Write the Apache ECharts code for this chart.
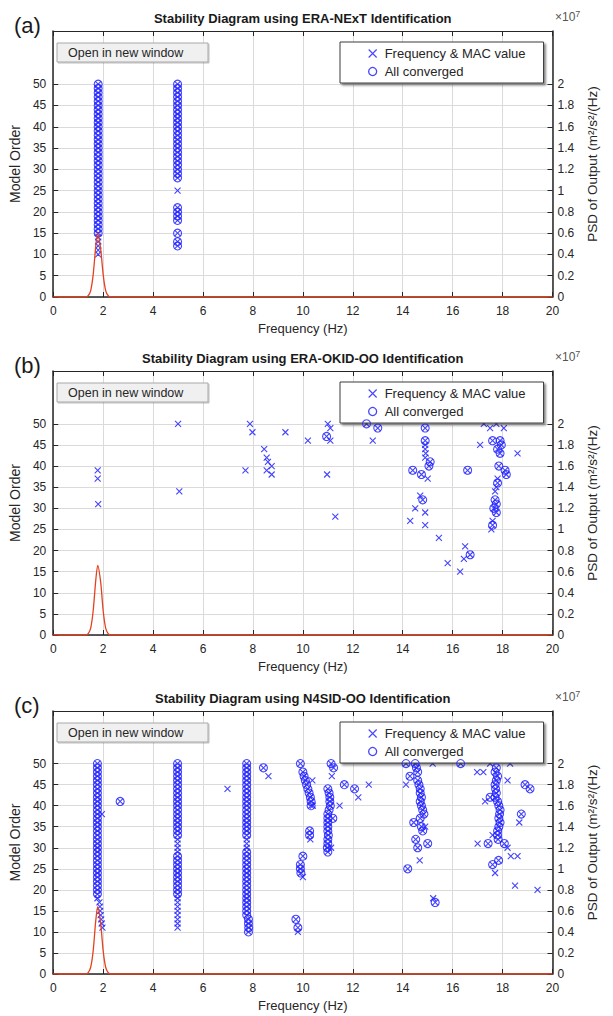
<!DOCTYPE html>
<html><head><meta charset="utf-8">
<script src="https://cdn.jsdelivr.net/npm/echarts@6/dist/echarts.min.js"></script>
<style>html,body{margin:0;padding:0;background:#fff}#c{width:613px;height:1016px}</style>
</head><body><div id="c"></div>
<script>
// ---------------- text ----------------
const panelLabels = ['(a)', '(b)', '(c)'];
const panelTitles = [
  'Stability Diagram using ERA-NExT Identification',
  'Stability Diagram using ERA-OKID-OO Identification',
  'Stability Diagram using N4SID-OO Identification'
];
const seriesNames = ['Frequency & MAC value', 'All converged', 'PSD'];
const xLabel = 'Frequency (Hz)';
const yLabel = 'Model Order';
const y2Label = 'PSD of Output (m²/s²/(Hz)';
const buttonText = 'Open in new window';
const orderTicks = [0, 5, 10, 15, 20, 25, 30, 35, 40, 45, 50];
const psdTicks = [0, 0.2, 0.4, 0.6, 0.8, 1, 1.2, 1.4, 1.6, 1.8, 2];

// ---------------- panel (a) ----------------
const aColFreqs = [1.8, 4.98];
const aCircleOrders = [
  [15,16,17,18,19,20,21,22,23,24,25,26,27,28,29,30,31,32,33,34,35,36,37,38,39,40,41,42,43,44,45,46,47,48,49,50],
  [12,13,15,18,19,20,21,28,29,30,31,32,33,34,35,36,37,38,39,40,41,42,43,44,45,46,47,48,49,50]
];
const aCrossOrders = [
  [10,11,12,13,14,15,16,17,18,19,20,21,22,23,24,25,26,27,28,29,30,31,32,33,34,35,36,37,38,39,40,41,42,43,44,45,46,47,48,49,50],
  [12,13,15,18,19,20,21,25,28,29,30,31,32,33,34,35,36,37,38,39,40,41,42,43,44,45,46,47,48,49,50]
];
const aPsdFreq = [0, 1.3, 1.4, 1.5, 1.6, 1.7, 1.78, 1.9, 2.0, 2.1, 2.2, 2.3, 20];
const aPsd = [0, 0, 0.012, 0.06, 0.21, 0.47, 0.6, 0.45, 0.21, 0.06, 0.012, 0, 0];

// ---------------- panel (b) ----------------
const bCircles = [[10.95,47],[12.55,50],[13.0,49],[14.4,39],[14.75,38],[14.8,32],[14.9,49],[14.9,46],[15.05,40],[15.1,41],[16.7,19],[16.6,39],[17.6,46],[17.9,46],[17.95,45],[17.8,44],[17.9,43],[17.85,40],[18.1,39],[18.15,38],[17.8,36],[17.7,32],[17.75,31],[17.65,30],[17.75,29],[17.6,26]];
const bCrossOnly = [[1.78,39],[1.78,37],[1.8,31],[5.0,50],[5.05,34],[7.7,39],[7.88,50],[7.98,48],[8.45,44],[8.55,42],[8.6,41],[8.55,39],[8.75,40],[8.75,38],[9.3,48],[10.2,46],[11.0,50],[11.1,49],[11.1,46],[10.97,38],[11.3,28],[12.8,46],[14.3,27],[14.5,30],[14.7,33],[14.9,29],[14.9,26],[14.9,45],[14.9,44],[14.92,43],[14.9,42],[15.0,37],[15.45,23],[15.8,17],[16.3,15],[16.45,18],[16.5,21],[17.1,45],[17.25,50],[17.5,49],[17.75,50],[18.05,49],[17.8,37],[17.75,35],[17.7,34],[17.6,27],[17.55,25],[18.6,43]];
const bPsdFreq = [0, 1.3, 1.4, 1.5, 1.6, 1.7, 1.78, 1.9, 2.0, 2.1, 2.2, 2.3, 20];
const bPsd = [0, 0, 0.013, 0.066, 0.23, 0.51, 0.66, 0.5, 0.23, 0.066, 0.013, 0, 0];

// ---------------- panel (c) ----------------
const cColFreqs = [1.77, 4.98, 7.75];
const cCircleOrders = [
  [19,20,21,22,23,24,25,26,27,28,29,30,31,32,33,34,35,36,37,38,39,40,41,42,43,44,45,46,47,48,49,50],
  [19,20,21,22,23,24,25,26,27,28,33,34,35,36,37,38,39,40,41,42,43,44,45,46,47,48,49,50],
  [14,15,16,17,18,19,20,21,22,23,24,25,26,27,28,29,33,34,35,36,37,38,39,40,41,42,43,44,45,46,47,48,49,50]
];
const cCrossOrders = [
  [18,19,20,21,22,23,24,25,26,27,28,29,30,31,32,33,34,35,36,37,38,39,40,41,42,43,44,45,46,47,48,49,50],
  [11,12,13,14,15,16,17,18,19,20,21,22,23,24,25,26,27,28,29,30,31,32,33,34,35,36,37,38,39,40,41,42,43,44,45,46,47,48,49,50],
  [14,15,16,17,18,19,20,21,22,23,24,25,26,27,28,29,30,31,32,33,34,35,36,37,38,39,40,41,42,43,44,45,46,47,48,49,50]
];
const cCircles = [[2.68,41],[8.42,49],[7.82,13],[7.82,12],[7.83,11],[7.82,10],
  [9.9,50],[10.0,48],[10.05,47],[10.1,46],[10.15,45],[10.2,44],[10.25,43],[10.3,42],[10.33,41],[10.33,40],[10.27,34],[10.27,33],[10.0,28],[9.9,26],[9.9,25],[9.92,24],[9.72,13],[9.8,11],
  [11.13,50],[11.23,49],[11.0,44],[11.05,43],[11.08,42],[11.08,41],[11.1,40],[11.05,39],[11.0,38],[11.0,37],[11.2,37],[11.0,36],[11.0,35],[11.0,34],[11.02,33],[11.0,32],[11.0,31],[10.98,30],[11.0,29],[11.66,45],[12.07,44],
  [14.13,50],[14.29,47],[14.5,50],[14.55,49],[14.6,48],[14.6,46],[14.65,45],[14.7,44],[14.7,43],[14.75,42],[14.7,41],[14.75,40],[14.8,39],[14.85,38],[14.7,37],[14.44,36],[14.75,35],[14.8,34],[14.52,32],[14.6,30],[15.0,31],[14.2,25],[15.3,17],
  [16.32,50],
  [17.75,49],[17.7,48],[17.8,47],[17.75,46],[17.7,45],[17.72,44],[17.75,43],[17.7,42],[17.5,42],[17.8,41],[17.85,40],[17.9,39],[17.88,38],[17.85,37],[17.9,36],[17.85,35],[17.8,34],[17.8,33],[17.82,32],[17.42,31],[18.07,31],[17.6,26],[17.84,27],[18.75,38],[18.9,45],[19.1,44]];
const cCrossOnly = [[1.85,17],[1.87,16],[1.88,15],[1.9,14],[1.92,13],[1.94,12],[1.97,11],[1.95,38],
  [6.98,44],[8.62,47],[10.38,46],[10.4,40],[10.3,32],[10.0,23],[9.8,10],
  [11.16,47],[11.47,40],[12.22,42],[12.64,45],[11.13,30],
  [14.13,45],[15.2,50],[14.68,27],[15.22,18],[14.9,35],
  [16.98,48],[17.23,48],[17.5,50],[18.3,50],[18.2,46],[17.3,41],[17.0,31],[17.7,24],[18.2,30],[18.33,28],[18.6,28],[18.5,21],[19.4,20],[18.67,36],[17.6,33]];
const cPsdFreq = [0, 1.3, 1.4, 1.5, 1.6, 1.7, 1.78, 1.9, 2.0, 2.1, 2.2, 2.3, 20];
const cPsd = [0, 0, 0.013, 0.064, 0.22, 0.5, 0.64, 0.48, 0.22, 0.064, 0.013, 0, 0];

// ---------------- assemble ----------------
function colPoints(freqs, orderLists) {
  const out = [];
  freqs.forEach((f, i) => orderLists[i].forEach(o => out.push([f, o])));
  return out;
}
function zip(xs, ys) { return xs.map((x, i) => [x, ys[i]]); }

const panels = [
  { crosses: colPoints(aColFreqs, aCrossOrders), circles: colPoints(aColFreqs, aCircleOrders), psd: zip(aPsdFreq, aPsd) },
  { crosses: bCircles.concat(bCrossOnly), circles: bCircles, psd: zip(bPsdFreq, bPsd) },
  { crosses: colPoints(cColFreqs, cCrossOrders).concat(cCircles, cCrossOnly),
    circles: colPoints(cColFreqs, cCircleOrders).concat(cCircles), psd: zip(cPsdFreq, cPsd) }
];

const FONT = 'Liberation Sans, Arial, sans-serif';
const INK = '#262626';
const BLUE = '#2323ff';
const CROSS = 'path://M0,0L10,10M0,10L10,0';
const layout = [{ top: 31, height: 266 }, { top: 371, height: 264 }, { top: 711, height: 263 }];
const GL = 53, GW = 499.5;

const option = {
  animation: false,
  backgroundColor: '#fff',
  textStyle: { fontFamily: FONT },
  grid: [], xAxis: [], yAxis: [], series: [], legend: [], graphic: []
};

layout.forEach((L, i) => {
  option.grid.push({ left: GL, top: L.top, width: GW, height: L.height, containLabel: false });
  const axisLine = { show: true, onZero: false, lineStyle: { color: INK, width: 1 } };
  const tick = { show: true, inside: true, length: 5, lineStyle: { color: INK, width: 1 } };
  const lab = { color: INK, fontSize: 12, fontFamily: FONT };
  option.xAxis.push({
    gridIndex: i, type: 'value', min: 0, max: 20, interval: 2, position: 'bottom',
    name: xLabel, nameLocation: 'middle', nameGap: 25,
    nameTextStyle: { color: INK, fontSize: 13, fontFamily: FONT },
    axisLine: { show: true, onZero: false, lineStyle: { color: INK, width: 1.5 } },
    axisTick: tick, axisLabel: Object.assign({ margin: 8 }, lab),
    splitLine: { show: true, lineStyle: { color: '#dadada', width: 1 } }
  });
  option.xAxis.push({
    gridIndex: i, type: 'value', min: 0, max: 20, interval: 2, position: 'top',
    axisLine: axisLine, axisTick: tick, axisLabel: { show: false }, splitLine: { show: false }
  });
  option.yAxis.push({
    gridIndex: i, type: 'value', min: 0, max: 62.5, position: 'left',
    name: yLabel, nameLocation: 'middle', nameGap: 26, nameRotate: 90,
    nameTextStyle: { color: INK, fontSize: 14, fontFamily: FONT },
    axisLine: { show: true, onZero: false, lineStyle: { color: INK, width: 1.5 } },
    axisTick: Object.assign({ customValues: orderTicks }, tick),
    axisLabel: Object.assign({ customValues: orderTicks, margin: 7 }, lab),
    splitLine: { show: true, lineStyle: { color: ['#dadada','#dadada','#dadada','#dadada','#dadada','#dadada','#dadada','#dadada','#dadada','#dadada','#dadada','rgba(0,0,0,0)','rgba(0,0,0,0)','rgba(0,0,0,0)'], width: 1 } }
  });
  option.yAxis.push({
    gridIndex: i, type: 'value', min: 0, max: 2.5, position: 'right',
    name: y2Label, nameLocation: 'middle', nameGap: 32, nameRotate: 90,
    nameTextStyle: { color: INK, fontSize: 13.5, fontFamily: FONT },
    axisLine: { show: true, onZero: false, lineStyle: { color: INK, width: 1.5 } },
    axisTick: Object.assign({ customValues: psdTicks }, tick),
    axisLabel: Object.assign({ customValues: psdTicks, margin: 5 }, lab),
    splitLine: { show: false }
  });
  const P = panels[i];
  option.series.push({
    type: 'scatter', name: seriesNames[0], xAxisIndex: 2 * i, yAxisIndex: 2 * i,
    data: P.crosses, symbol: CROSS, symbolSize: 6, silent: true, z: 3,
    itemStyle: { color: BLUE, borderColor: BLUE, borderWidth: 1.1, opacity: 0.85 }
  });
  option.series.push({
    type: 'scatter', name: seriesNames[1], xAxisIndex: 2 * i, yAxisIndex: 2 * i,
    data: P.circles, symbol: 'circle', symbolSize: 8, silent: true, z: 4,
    itemStyle: { color: 'rgba(0,0,0,0)', borderColor: BLUE, borderWidth: 1.1, opacity: 0.85 }
  });
  option.series.push({
    type: 'line', name: seriesNames[2], xAxisIndex: 2 * i, yAxisIndex: 2 * i + 1,
    data: P.psd, showSymbol: false, smooth: 0.25, silent: true, z: 5,
    lineStyle: { color: '#e4421e', width: 1.3 }
  });
  option.legend.push({
    left: 340, top: L.top + 11, orient: 'vertical', selectedMode: false,
    itemWidth: 14, itemHeight: 8, itemGap: 5,
    padding: [5, 18, 5, 28],
    backgroundColor: '#ffffff', borderColor: '#3c3c3c', borderWidth: 1,
    shadowColor: 'rgba(0,0,0,0.45)', shadowBlur: 2, shadowOffsetX: 2, shadowOffsetY: 2,
    textStyle: { color: INK, fontSize: 13, fontFamily: FONT },
    data: [
      { name: seriesNames[0], icon: CROSS, itemStyle: { color: BLUE, borderColor: BLUE, borderWidth: 1.1 } },
      { name: seriesNames[1], icon: 'circle', itemStyle: { color: 'rgba(0,0,0,0)', borderColor: BLUE, borderWidth: 1.3 } }
    ]
  });
  const cx = GL + GW / 2;
  option.graphic.push(
    { type: 'text', x: cx, y: L.top - 13, silent: true,
      style: { text: panelTitles[i], fill: '#1a1a1a', font: 'bold 13px ' + FONT, textAlign: 'center', textVerticalAlign: 'middle' } },
    { type: 'text', x: 14, y: L.top - 6, silent: true,
      style: { text: panelLabels[i], fill: '#1a1a1a', font: '22px ' + FONT, textAlign: 'left', textVerticalAlign: 'middle' } },
    { type: 'text', x: 555, y: L.top - 14, silent: true,
      style: { text: '{a|×10}{b|7}', textAlign: 'left', textVerticalAlign: 'middle',
        rich: { a: { fontSize: 12, fill: '#555', fontFamily: FONT }, b: { fontSize: 9, fill: '#555', fontFamily: FONT, verticalAlign: 'top', padding: [0, 0, 6, 0] } } } },
    { type: 'rect', x: 57, y: L.top + 12, silent: true, z: 20,
      shape: { x: 0, y: 0, width: 151, height: 19 },
      style: { fill: '#f0f0f0', stroke: '#a8a8a8', lineWidth: 1, shadowColor: 'rgba(0,0,0,0.25)', shadowBlur: 1, shadowOffsetX: 1, shadowOffsetY: 1 } },
    { type: 'text', x: 68, y: L.top + 21.5, silent: true, z: 21,
      style: { text: buttonText, fill: INK, font: '12.5px ' + FONT, textAlign: 'left', textVerticalAlign: 'middle' } }
  );
});

const chart = echarts.init(document.getElementById('c'), null, { renderer: 'svg', width: 613, height: 1016 });
chart.setOption(option);
</script>
</body></html>
